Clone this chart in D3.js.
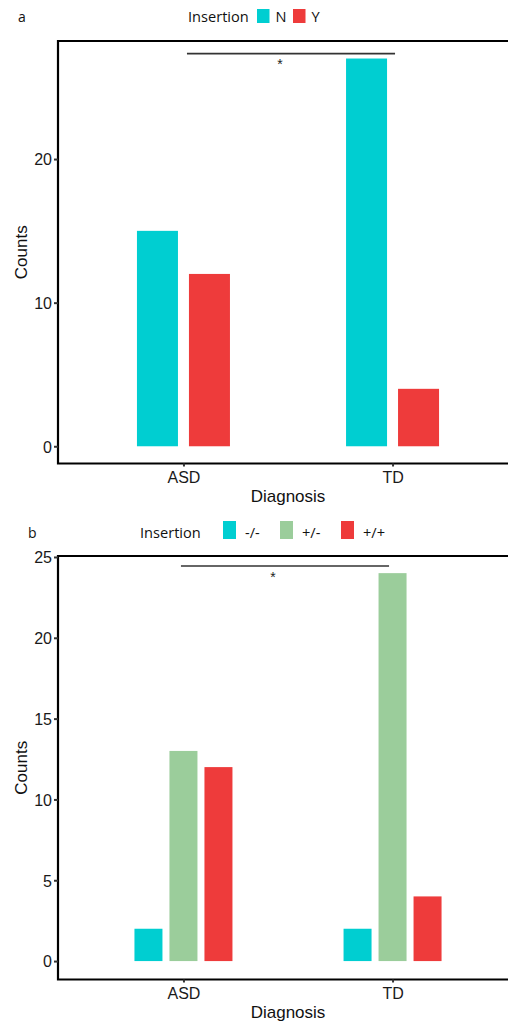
<!DOCTYPE html>
<html>
<head>
<meta charset="utf-8">
<script src="https://cdn.jsdelivr.net/npm/d3@7/dist/d3.min.js"></script>
<style>
  html, body { margin: 0; padding: 0; background: #fff; }
  svg { display: block; }
</style>
</head>
<body>
<svg id="chart" width="508" height="1022"></svg>
<script>
// ---- data ----
const diagnoses = ["ASD", "TD"];

// panel a: insertion carrier (N / Y)
const keysA = ["N", "Y"];
const countsA_ASD = [15, 12];
const countsA_TD = [27, 4];
const ticksA = [0, 10, 20];

// panel b: genotype (-/-, +/-, +/+)
const keysB = ["-/-", "+/-", "+/+"];
const countsB_ASD = [2, 13, 12];
const countsB_TD = [2, 24, 4];
const ticksB = [0, 5, 10, 15, 20, 25];

// significance brackets (level in count units)
const sigA = { from: "ASD", to: "TD", level: 27.34, label: "*" };
const sigB = { from: "ASD", to: "TD", level: 24.44, label: "*" };

const colorsA = ["#00CED1", "#EE3B3B"];
const colorsB = ["#00CED1", "#9BCD9B", "#EE3B3B"];

const svg = d3.select("#chart");
const axisFont = "'Liberation Sans', Arial, Helvetica, sans-serif";
const legendFont = "'Open Sans', 'Noto Sans', sans-serif";

function drawPanel(cfg) {
  const g = svg.append("g");
  const x = d3.scalePoint().domain(diagnoses).range([cfg.left, cfg.right]).padding(0.6);
  const y = d3.scaleLinear().domain(cfg.yDomain).range([cfg.bottom, cfg.top]);
  const inner = d3.scaleBand().domain(cfg.keys)
    .range([-cfg.groupWidth / 2, cfg.groupWidth / 2]).paddingInner(cfg.innerPad);
  const color = d3.scaleOrdinal().domain(cfg.keys).range(cfg.colors);

  const rows = [];
  diagnoses.forEach((dg, i) => {
    cfg.keys.forEach((k, j) => rows.push({ dg, k, v: cfg.values[i][j] }));
  });

  // bars
  g.selectAll("rect.bar").data(rows).join("rect")
    .attr("class", "bar")
    .attr("x", d => x(d.dg) + inner(d.k))
    .attr("width", inner.bandwidth())
    .attr("y", d => y(d.v))
    .attr("height", d => y(0) - y(d.v))
    .attr("fill", d => color(d.k));

  // panel frame (left, top, bottom)
  g.append("path")
    .attr("d", `M${cfg.right},${cfg.top}H${cfg.left}V${cfg.bottom}H${cfg.right}`)
    .attr("fill", "none").attr("stroke", "#000").attr("stroke-width", 2.2);

  // y axis
  const yAxis = g.append("g").attr("transform", `translate(${cfg.left},0)`)
    .call(d3.axisLeft(y).tickValues(cfg.ticks).tickSize(4).tickPadding(2));
  yAxis.select(".domain").remove();
  yAxis.selectAll(".tick line").attr("stroke", "#333").attr("stroke-width", 2);
  yAxis.selectAll(".tick text").attr("font-family", axisFont).attr("font-size", 16)
    .attr("fill", "#1a1a1a").attr("dy", "0.36em");

  // x axis
  const xAxis = g.append("g").attr("transform", `translate(0,${cfg.bottom})`)
    .call(d3.axisBottom(x).tickSize(3).tickPadding(2));
  xAxis.select(".domain").remove();
  xAxis.selectAll(".tick line").attr("stroke", "#333").attr("stroke-width", 2);
  xAxis.selectAll(".tick text").attr("font-family", axisFont).attr("font-size", 16)
    .attr("fill", "#1a1a1a").attr("dy", null).attr("y", 19.5);

  // axis titles
  g.append("text").attr("x", (cfg.left + cfg.right) / 2).attr("y", cfg.bottom + 38.5)
    .attr("text-anchor", "middle").attr("font-family", axisFont).attr("font-size", 17)
    .attr("fill", "#111").text("Diagnosis");
  g.append("text")
    .attr("transform", `translate(27,${(cfg.top + cfg.bottom) / 2}) rotate(-90)`)
    .attr("text-anchor", "middle").attr("font-family", axisFont).attr("font-size", 17)
    .attr("fill", "#111").text("Counts");

  // significance bracket
  const s = cfg.sig;
  const sy = y(s.level);
  const x1 = x(s.from) + cfg.sigNudge[0], x2 = x(s.to) + cfg.sigNudge[1];
  g.append("line").attr("x1", x1).attr("x2", x2).attr("y1", sy).attr("y2", sy)
    .attr("stroke", "#333").attr("stroke-width", 1.6);
  g.append("text").attr("x", (x1 + x2) / 2 + cfg.starShift).attr("y", sy + 15.5)
    .attr("text-anchor", "middle").attr("font-family", axisFont).attr("font-size", 14)
    .attr("fill", "#222").text(s.label);

  // panel letter
  g.append("text").attr("x", cfg.letterX).attr("y", cfg.legendY)
    .attr("font-family", legendFont).attr("font-size", 14).attr("fill", "#111")
    .text(cfg.letter);

  // legend
  const lg = g.append("g");
  lg.append("text").attr("x", cfg.legendX).attr("y", cfg.legendY)
    .attr("font-family", legendFont).attr("font-size", 14.6).attr("fill", "#111")
    .text("Insertion");
  cfg.keys.forEach((k, j) => {
    const kx = cfg.keyX[j];
    lg.append("rect").attr("x", kx).attr("y", cfg.legendY - cfg.keyH + cfg.keyDrop)
      .attr("width", cfg.keyW).attr("height", cfg.keyH).attr("fill", color(k));
    lg.append("text").attr("x", kx + cfg.keyW + cfg.keyGap).attr("y", cfg.legendY)
      .attr("font-family", legendFont).attr("font-size", 14.6).attr("fill", "#111")
      .text(k);
  });
}

drawPanel({
  letter: "a", letterX: 18,
  keys: keysA, colors: colorsA, values: [countsA_ASD, countsA_TD], ticks: ticksA,
  left: 58, right: 518, top: 41, bottom: 463.5, yDomain: [-1.2, 28.22],
  groupWidth: 93, innerPad: 0.2115,
  sig: sigA, sigNudge: [3.5, 2.5], starShift: -11,
  legendX: 188, legendY: 22, keyX: [257, 293], keyW: 12.5, keyH: 14, keyDrop: 1, keyGap: 6
});

drawPanel({
  letter: "b", letterX: 28,
  keys: keysB, colors: colorsB, values: [countsB_ASD, countsB_TD], ticks: ticksB,
  left: 58, right: 518, top: 556, bottom: 979.5, yDomain: [-1.14, 25.06],
  groupWidth: 98, innerPad: 0.2,
  sig: sigB, sigNudge: [-2.5, -3.5], starShift: -12,
  legendX: 140, legendY: 538, keyX: [223, 280, 341], keyW: 13, keyH: 18, keyDrop: 1, keyGap: 9
});
</script>
</body>
</html>
